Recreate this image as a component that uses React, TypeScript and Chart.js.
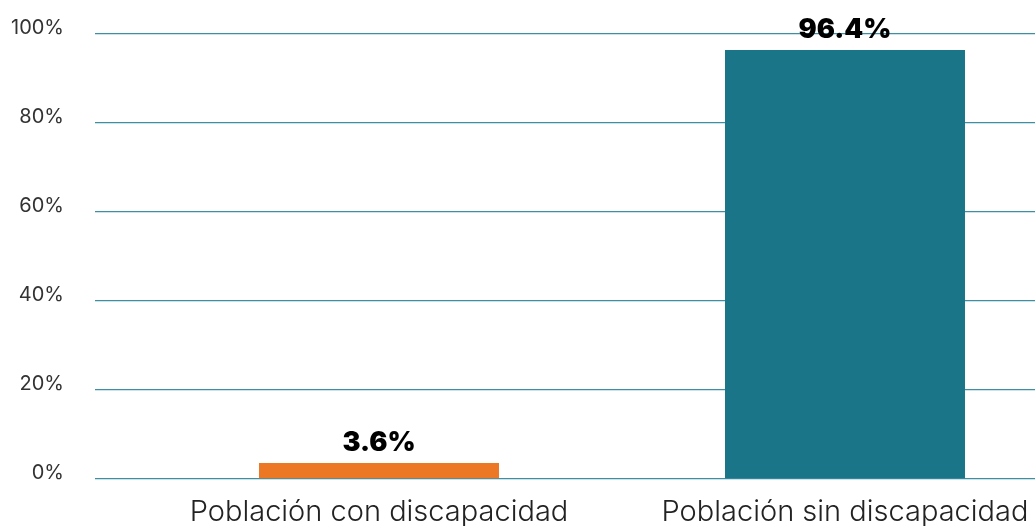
import React, { useEffect, useRef } from "react";
import { Chart, registerables } from "chart.js";

Chart.register(...registerables);

const categories = ["Población con discapacidad", "Población sin discapacidad"];
const values = [3.6, 96.4];
const barColors = ["#EC7724", "#1A7588"];
const yTicks = [0, 20, 40, 60, 80, 100];

const valueLabels = {
  id: "valueLabels",
  afterDatasetsDraw(chart: any) {
    const ctx = chart.ctx;
    const meta = chart.getDatasetMeta(0);
    ctx.save();
    ctx.font = "900 27px Inter, 'DejaVu Sans', sans-serif";
    ctx.fillStyle = "#000";
    ctx.textAlign = "center";
    ctx.textBaseline = "alphabetic";
    meta.data.forEach((el: any, i: number) => {
      ctx.fillText(values[i].toFixed(1) + "%", el.x, el.y - 12);
    });
    ctx.restore();
  },
};

export default function App() {
  const ref = useRef<HTMLCanvasElement | null>(null);
  useEffect(() => {
    if (!ref.current) return;
    const chart = new Chart(ref.current, {
      type: "bar",
      data: {
        labels: categories,
        datasets: [
          {
            data: values,
            backgroundColor: barColors,
            barPercentage: 1,
            categoryPercentage: 0.515,
          },
        ],
      },
      options: {
        animation: false,
        responsive: true,
        maintainAspectRatio: false,
        layout: { padding: { top: 34, right: 2, bottom: 0, left: 0 } },
        plugins: { legend: { display: false }, tooltip: { enabled: false } },
        scales: {
          x: {
            grid: { display: false, drawTicks: false },
            border: { display: false },
            afterFit: (scale: any) => {
              scale.paddingLeft = 0;
              scale.paddingRight = 0;
              scale.height = 47;
            },
            ticks: {
              padding: 16,
              color: "#222",
              font: { family: "Inter, 'Open Sans', sans-serif", size: 29, weight: 300 as any },
              maxRotation: 0,
              autoSkip: false,
            },
          },
          y: {
            min: 0,
            max: 100,
            afterFit: (scale: any) => {
              scale.width = 146;
              scale.paddingTop = 0;
              scale.paddingBottom = 0;
            },
            afterBuildTicks: (scale: any) => {
              scale.ticks = yTicks.map((v) => ({ value: v }));
            },
            grid: { color: "#3E8FA4", lineWidth: 1.3, tickLength: 51, drawTicks: true },
            border: { display: false },
            ticks: {
              padding: 31,
              labelOffset: -6,
              color: "#333",
              font: { family: "Inter, 'Open Sans', sans-serif", size: 20, weight: 400 as any },
              callback: (v: any) => v + "%",
            },
          },
        },
      },
      plugins: [valueLabels],
    });
    return () => chart.destroy();
  }, []);
  return (
    <div style={{ position: "fixed", left: 0, top: 0, width: 1035, height: 526, overflow: "hidden", background: "#fff" }}>
      <div style={{ position: "relative", width: 1080, height: 526 }}>
        <canvas ref={ref} />
      </div>
    </div>
  );
}
